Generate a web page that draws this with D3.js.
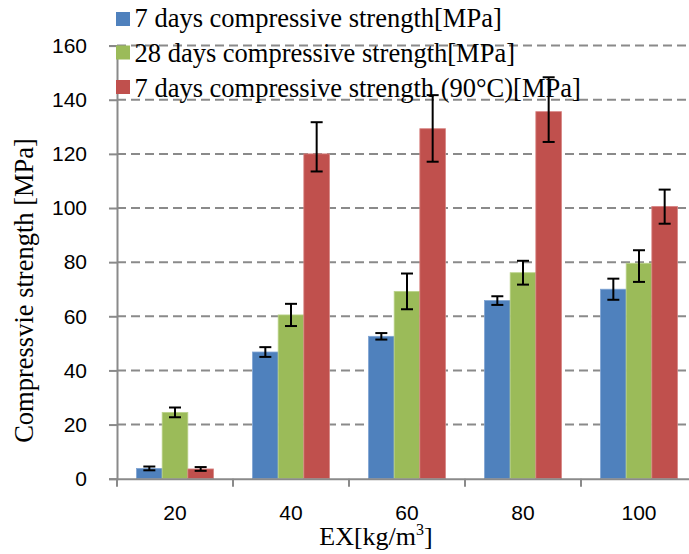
<!DOCTYPE html>
<html><head><meta charset="utf-8">
<script src="https://cdn.jsdelivr.net/npm/d3@7"></script>
<style>body{margin:0;background:#fff}svg{display:block}
.serif{font-family:"Liberation Serif","Times New Roman",Times,"DejaVu Serif",serif}
.sans{font-family:"Liberation Sans",Arial,"DejaVu Sans",sans-serif}
</style>
</head><body>
<svg id="c" width="689" height="554"></svg>
<script>
const categories = ["20","40","60","80","100"];
const seriesNames = ["7 days compressive strength[MPa]","28 days compressive strength[MPa]","7 days compressive strength (90\u00B0C)[MPa]"];
const s7 = [3.8, 46.8, 52.6, 65.8, 70.0];
const s28 = [24.5, 60.5, 69.2, 76.1, 79.6];
const s90 = [3.6, 120.0, 129.3, 135.6, 100.6];
const s7Up = [0.7, 1.8, 1.2, 1.6, 3.9];
const s7Down = [0.7, 1.8, 1.2, 1.6, 3.9];
const s28Up = [1.8, 4.1, 6.6, 4.4, 4.8];
const s28Down = [1.8, 4.1, 6.6, 4.4, 6.9];
const s90Up = [0.7, 11.7, 12.4, 12.7, 6.2];
const s90Down = [0.7, 6.5, 12.2, 11.2, 6.4];
const yTicks = [0,20,40,60,80,100,120,140,160];
const colors = ["#4F81BD","#9BBB59","#C0504D"];
const strokes = ["#7FA3D3","#BBD38A","#D88584"];

const series = [
  {name: seriesNames[0], v: s7, up: s7Up, dn: s7Down},
  {name: seriesNames[1], v: s28, up: s28Up, dn: s28Down},
  {name: seriesNames[2], v: s90, up: s90Up, dn: s90Down}
];

const svg = d3.select("#c");
const pL = 117, pR = 697, pB = 478.7, pT = 45.6;
const x0 = d3.scaleBand().domain(categories).range([pL, pR]).padding(0);
const x1 = d3.scaleBand().domain([0,1,2]).range([19.5, 96.5]).padding(0);
const y = d3.scaleLinear().domain([0,160]).range([pB, pT]);

// gridlines
svg.append("g").selectAll("line").data(yTicks.filter(t => t > 0)).join("line")
  .attr("x1", pL).attr("x2", pR)
  .attr("y1", d => y(d)).attr("y2", d => y(d))
  .attr("stroke", "#8a8a8a").attr("stroke-width", 2).attr("stroke-dasharray", "9,5");

// bars
const g = svg.append("g");
series.forEach((s, i) => {
  g.append("g").selectAll("rect").data(categories).join("rect")
    .attr("x", (c) => x0(c) + x1(i))
    .attr("width", x1.bandwidth())
    .attr("y", (c, j) => y(s.v[j]))
    .attr("height", (c, j) => y(0) - y(s.v[j]))
    .attr("fill", colors[i]).attr("stroke", strokes[i]).attr("stroke-width", 0.8);
});

// y axis
const yAxis = d3.axisLeft(y).tickValues(yTicks).tickSize(8).tickPadding(22);
const ya = svg.append("g").attr("transform", `translate(${pL},0)`).call(yAxis);
ya.attr("font-family", null).attr("font-size", null);
ya.select(".domain").attr("stroke", "#8a8a8a").attr("stroke-width", 2);
ya.selectAll(".tick line").attr("stroke", "#8a8a8a").attr("stroke-width", 2);
ya.selectAll("text").attr("class", "sans").style("font-size", "21px").attr("fill", "#000");

// x axis
const xAxis = d3.axisBottom(x0).tickSize(0).tickPadding(26);
const xa = svg.append("g").attr("transform", `translate(0,${pB})`).call(xAxis);
xa.attr("font-family", null).attr("font-size", null);
xa.select(".domain").attr("stroke", "#8a8a8a").attr("stroke-width", 2);
xa.selectAll("text").attr("class", "sans").style("font-size", "21px").attr("fill", "#000");
xa.append("g").selectAll("line").data(categories.concat(["end"])).join("line")
  .attr("x1", (d,i) => pL + i*x0.step()).attr("x2", (d,i) => pL + i*x0.step())
  .attr("y1", 0).attr("y2", 8).attr("stroke", "#8a8a8a").attr("stroke-width", 2);

// axis titles
const xt = svg.append("text").attr("class", "serif").attr("x", 376).attr("y", 545).attr("text-anchor", "middle")
  .style("font-size", "26px").attr("fill", "#000");
xt.append("tspan").text("EX[kg/m");
xt.append("tspan").style("font-size", "16px").attr("dy", -10).text("3");
xt.append("tspan").attr("dy", 10).text("]");

svg.append("text").attr("class", "serif").attr("transform", "translate(33,290.5) rotate(-90)").attr("text-anchor", "middle")
  .style("font-size", "26.5px").attr("fill", "#000")
  .text("Compressvie strength [MPa]");

// legend
const lg = svg.append("g");
const sqY = [19, 52.5, 87];
const baseY = [27, 62, 97];
series.forEach((s, i) => {
  lg.append("rect").attr("x", 116).attr("y", sqY[i]-7).attr("width", 14).attr("height", 14).attr("fill", colors[i]);
  lg.append("text").attr("class", "serif").attr("x", 134.5).attr("y", baseY[i])
    .style("font-size", "26.5px").attr("fill", "#000")
    .text(s.name);
});

// error bars (drawn on top)
series.forEach((s, i) => {
  const eg = svg.append("g").attr("stroke", "#000").attr("stroke-width", 2);
  categories.forEach((c, j) => {
    const cx = x0(c) + x1(i) + x1.bandwidth()/2;
    const yt = y(s.v[j] + s.up[j]), yb = y(s.v[j] - s.dn[j]);
    eg.append("line").attr("x1", cx).attr("x2", cx).attr("y1", yt).attr("y2", yb);
    eg.append("line").attr("x1", cx-6).attr("x2", cx+6).attr("y1", yt).attr("y2", yt);
    eg.append("line").attr("x1", cx-6).attr("x2", cx+6).attr("y1", yb).attr("y2", yb);
  });
});
</script>
</body></html>
